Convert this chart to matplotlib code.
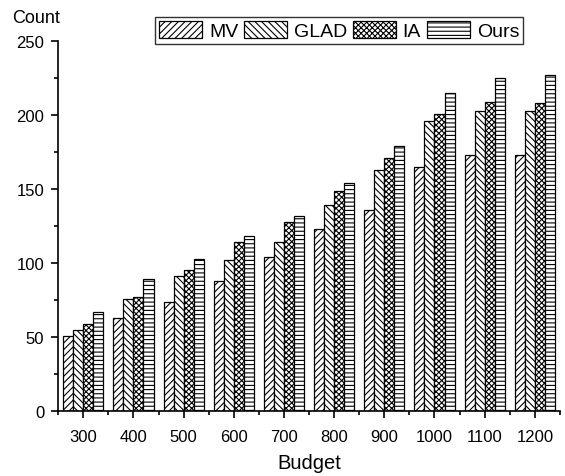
import matplotlib
matplotlib.use("Agg")
import matplotlib.pyplot as plt
import numpy as np

plt.rcParams["font.family"] = ["Liberation Sans", "DejaVu Sans"]
plt.rcParams["hatch.linewidth"] = 0.8

budgets = [300, 400, 500, 600, 700, 800, 900, 1000, 1100, 1200]
mv = [51, 63, 74, 88, 104, 123, 136, 165, 173, 173]
glad = [55, 76, 91, 102, 114, 139, 163, 196, 203, 203]
ia = [59, 77, 95, 114, 128, 149, 171, 201, 209, 208]
ours = [67, 89, 103, 118, 132, 154, 179, 215, 225, 227]

series = [("MV", mv, "/////"), ("GLAD", glad, "\\\\\\\\\\"),
          ("IA", ia, "xxxxxx"), ("Ours", ours, "----")]

fig = plt.figure(figsize=(5.65, 4.77), dpi=100)
ax = fig.add_axes([0.103, 0.136, 0.888, 0.776])

width = 20
x = np.array(budgets, dtype=float)
for i, (name, vals, hatch) in enumerate(series):
    offs = (i - 1.5) * width
    ax.bar(x + offs, vals, width, facecolor="white", edgecolor="black",
           hatch=hatch, linewidth=0.9, label=name)

ax.set_xlim(250, 1250)
ax.set_ylim(0, 250)
ax.set_xticks(budgets)
ax.set_xticks(np.arange(250, 1251, 100), minor=True)
ax.set_yticks(np.arange(0, 251, 50))
ax.set_yticks(np.arange(0, 251, 25), minor=True)
ax.spines["top"].set_visible(False)
ax.spines["right"].set_visible(False)
for s in ("left", "bottom"):
    ax.spines[s].set_linewidth(1.2)
ax.tick_params(axis="both", which="major", direction="out", length=5, width=1.2,
               labelsize=12)
ax.tick_params(axis="x", which="major", pad=8)
ax.tick_params(axis="y", which="major", pad=5)
ax.tick_params(axis="both", which="minor", direction="out", length=3, width=1.2)
ax.set_xlabel("Budget", fontsize=14.5, labelpad=6)

fig.text(0.064, 0.962, "Count", fontsize=13, ha="center", va="center")

leg = ax.legend(ncol=4, loc="upper center", bbox_to_anchor=(0.56, 1.065),
                frameon=True, fancybox=False, edgecolor="black", fontsize=14,
                handlelength=2.2, handleheight=1.0, handletextpad=0.36,
                columnspacing=0.3, borderpad=0.2, borderaxespad=0)
leg.get_frame().set_linewidth(1.0)

fig.savefig("out.png", dpi=100)
